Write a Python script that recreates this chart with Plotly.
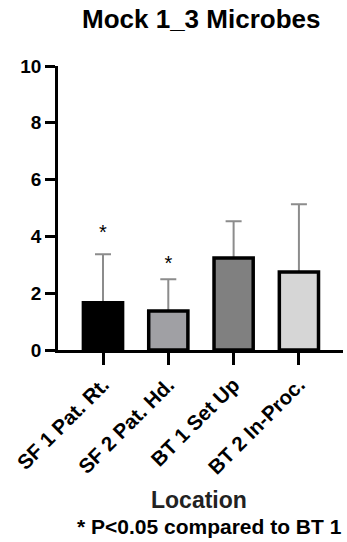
import plotly.graph_objects as go

categories = ["SF 1 Pat. Rt.", "SF 2 Pat. Hd.", "BT 1 Set Up", "BT 2 In-Proc."]
means = [1.66, 1.37, 3.24, 2.75]
err_up = [1.71, 1.12, 1.29, 2.38]
star_y = [4.1, 3.0]
star_cats = ["SF 1 Pat. Rt.", "SF 2 Pat. Hd."]
fills = ["#000000", "#a0a0a4", "#808080", "#d6d6d6"]
y_ticks = [0, 2, 4, 6, 8, 10]

FONT = "Arial, Liberation Sans, sans-serif"

fig = go.Figure()
# error bars (drawn first so the bars cover their lower part)
fig.add_trace(go.Bar(
    x=categories, y=means, width=0.6,
    marker=dict(color="rgba(0,0,0,0)", line=dict(width=0)),
    error_y=dict(type="data", symmetric=False, array=err_up,
                 arrayminus=[0] * len(means), color="#8c8c8c",
                 thickness=2, width=8),
    showlegend=False, hoverinfo="skip",
))
fig.add_trace(go.Bar(
    x=categories, y=means, width=0.6,
    marker=dict(color=fills, line=dict(color="#000000", width=3.5)),
    showlegend=False,
))
fig.add_trace(go.Scatter(
    x=star_cats, y=star_y, mode="text", text=["*"] * len(star_cats),
    textfont=dict(family=FONT, size=20, color="#000000"),
    showlegend=False, hoverinfo="skip",
))

fig.update_layout(
    width=347, height=542,
    margin=dict(l=58, r=4, t=66, b=192),
    plot_bgcolor="white", paper_bgcolor="white",
    font=dict(family=FONT, color="#000000"),
    barmode="overlay",
)
fig.update_xaxes(
    type="category", range=[-0.689, 3.675], automargin=False,
    showline=True, linecolor="#000000", linewidth=2.5,
    ticks="outside", ticklen=12, tickwidth=2.5, tickcolor="#000000",
    tickangle=-45, tickfont=dict(family=FONT, size=20.5, color="#000000", weight="bold"),
    showgrid=False, zeroline=False,
)
fig.update_yaxes(
    range=[0, 10], tickvals=y_ticks, ticktext=[str(v) for v in y_ticks],
    automargin=False,
    showline=True, linecolor="#000000", linewidth=2.5,
    ticks="outside", ticklen=10, tickwidth=2.5, tickcolor="#000000",
    tickfont=dict(family=FONT, size=19, color="#000000", weight="bold"),
    showgrid=False, zeroline=False,
)

fig.add_annotation(text="<b>Mock 1_3 Microbes</b>", xref="paper", yref="paper",
                   x=0.5, y=1.164, xanchor="center", yanchor="middle",
                   showarrow=False, font=dict(family=FONT, size=26, color="#000000"))
fig.add_annotation(text="<b>Location</b>", xref="paper", yref="paper",
                   x=0.493, y=-0.529, xanchor="center", yanchor="middle",
                   showarrow=False, font=dict(family=FONT, size=23, color="#222222"))
fig.add_annotation(text="<b>* P<0.05 compared to BT 1</b>", xref="paper", yref="paper",
                   x=0.533, y=-0.621, xanchor="center", yanchor="middle",
                   showarrow=False, font=dict(family=FONT, size=21, color="#000000"))

fig.write_html("out.html", config={"displayModeBar": False},
               post_script="document.body.style.margin='0';")
